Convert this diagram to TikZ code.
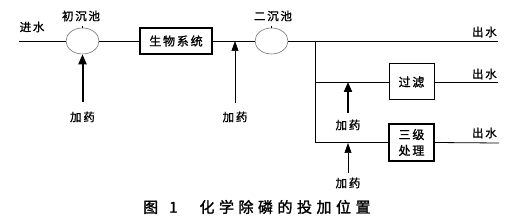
\documentclass[tikz,border=0pt]{standalone}
\usepackage{fontspec}
\usetikzlibrary{shapes.geometric,arrows.meta}
\newfontfamily\cjk[LetterSpace=15,FakeBold=1.2]{Noto Sans CJK SC}
\newfontfamily\cjkcap[LetterSpace=30,FakeBold=1.6]{Noto Sans CJK SC}
\begin{document}
\begin{tikzpicture}[x=1pt,y=-1pt,
  lbl/.style={font=\cjk\fontsize{11.5}{12}\selectfont, inner sep=0pt},
  pool/.style={ellipse, draw=black!55, line width=0.6pt, minimum width=33pt, minimum height=26pt, inner sep=0pt},
  unit/.style={draw, font=\cjk\fontsize{12}{13}\selectfont, inner sep=0pt, align=center},
  flow/.style={line width=0.8pt},
  dosethick/.style={line width=2pt, -{Triangle[length=10pt,width=8pt]}},
  dosethin/.style={line width=0.6pt, -{Triangle[length=10pt,width=7pt]}}]
\useasboundingbox (0,0) rectangle (519,224);
% nodes
\node[pool] (p1) at (82.5,41) {};
\node[pool] (p2) at (271.5,41) {};
\node[unit, line width=1.6pt, minimum width=72pt, minimum height=26pt] (bio) at (176,41) {生物系统};
\node[unit, line width=1pt, minimum width=45pt, minimum height=36pt] (filt) at (411.5,82) {过滤};
\node[unit, line width=1.4pt, minimum width=45pt, minimum height=37pt, font=\cjk\fontsize{12}{16}\selectfont] (tert) at (411.5,142.5) {三级\\处理};
% free ends
\coordinate (in) at (19,41);
\coordinate (b0) at (315,41);
\coordinate (b1) at (315,82);
\coordinate (o1) at (498,41);
\coordinate (o2) at (498,82);
\coordinate (o3) at (499,143);
\coordinate (j1) at (235,41);
\coordinate (j2) at (348,82);
\coordinate (j3) at (348,143);
\coordinate (d1) at (82.5,102);
\coordinate (d2) at (235,103);
\coordinate (d3) at (348,113);
\coordinate (d4) at (348,173);
% main flow
\draw[flow] (in) -- (p1.west);
\draw[flow] (p1.east) -- (bio.west);
\draw[flow] (bio.east) -- (p2.west);
\draw[flow] (p2.east) -- (o1);
\draw[flow] (b0) |- (tert.west);
\draw[flow] (b1) -- (filt.west);
\draw[flow] (filt.east) -- (o2);
\draw[flow] (tert.east) -- (o3);
% small ticks on pools
\draw[line width=0.6pt] (p1.north) -- ++(0,-2);
\draw[line width=0.6pt] (p2.north) -- ++(0,-2);
% dosing arrows
\draw[dosethick] (d1) -- (p1.south);
\draw[dosethin] (d2) -- (j1);
\draw[dosethick] (d3) -- (j2);
\draw[dosethin] (d4) -- (j3);
% labels
\node[lbl] (tin) at (32,27) {进水};
\node[lbl] (tp1) at (81,16) {初沉池};
\node[lbl] (tp2) at (273,16) {二沉池};
\node[lbl, anchor=east] (to1) at (497,32) {出水};
\node[lbl, anchor=east] (to2) at (497,74) {出水};
\node[lbl, anchor=east] (to3) at (497,133) {出水};
\node[lbl] (a1) at (82.5,117) {加药};
\node[lbl] (a2) at (235,117) {加药};
\node[lbl] (a3) at (348,125) {加药};
\node[lbl] (a4) at (348,183) {加药};
\node[font=\cjkcap\fontsize{15}{16}\selectfont, inner sep=0pt, anchor=west] (cap) at (143,207) {图\hspace{11pt}1\hspace{22pt}化学除磷的投加位置};
\end{tikzpicture}
\end{document}
